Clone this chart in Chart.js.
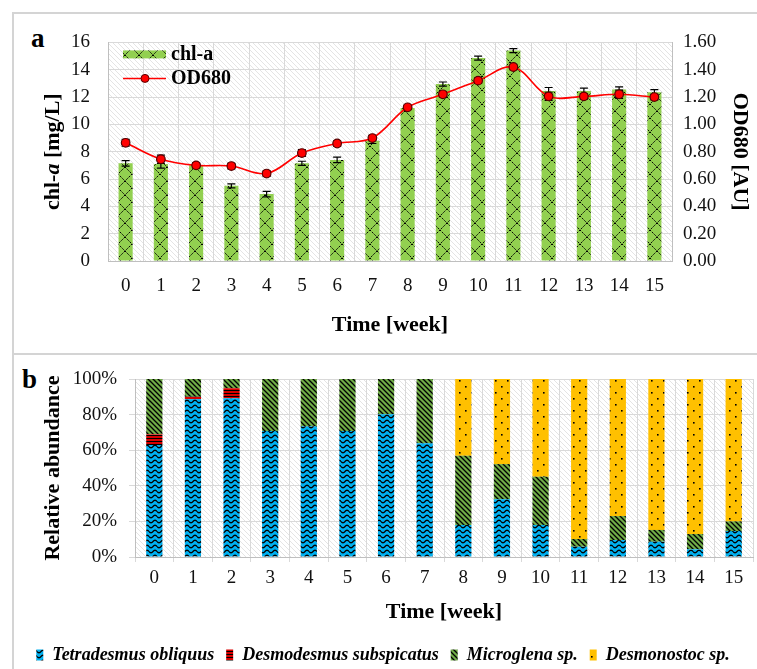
<!DOCTYPE html>
<html>
<head>
<meta charset="utf-8">
<script src="https://cdn.jsdelivr.net/npm/chart.js@4.4.0/dist/chart.umd.min.js"></script>
<style>
    body { margin: 0; width: 757px; height: 669px; overflow: hidden; background: #fff; position: relative; font-family: "Liberation Serif", serif; }
    .frame { position: absolute; background: #d4d4d4; }
    .panel-label { position: absolute; font-weight: bold; font-size: 27px; line-height: 1; color: #000; }
    #wrapA { position: absolute; left: 13px; top: 13px; }
    #wrapB { position: absolute; left: 13px; top: 354px; }
</style>
</head>
<body>
<div class="frame" style="left:12px; top:12px; width:745px; height:2px;"></div>
<div class="frame" style="left:12px; top:12px; width:2px; height:657px;"></div>
<div class="frame" style="left:12px; top:353px; width:745px; height:2px;"></div>
<div class="panel-label" style="left:31px; top:25px;">a</div>
<div class="panel-label" style="left:22px; top:366px;">b</div>
<div id="wrapA"><canvas id="chart-a" width="744" height="341"></canvas></div>
<div id="wrapB"><canvas id="chart-b" width="744" height="320"></canvas></div>
<script>
const FONT = "Liberation Serif";

const weeks = ["0", "1", "2", "3", "4", "5", "6", "7", "8", "9", "10", "11", "12", "13", "14", "15"];

// panel a: chl-a [mg/L] bars and OD680 [AU] line, with error bars
const chlA = [7.15, 7.1, 7.0, 5.5, 4.9, 7.15, 7.4, 8.8, 11.2, 12.95, 14.85, 15.4, 12.45, 12.45, 12.55, 12.35];
const chlAErr = [0.2, 0.3, 0.12, 0.15, 0.2, 0.15, 0.2, 0.2, 0.1, 0.15, 0.15, 0.15, 0.25, 0.2, 0.2, 0.2];
const od680 = [0.865, 0.745, 0.70, 0.695, 0.64, 0.79, 0.86, 0.90, 1.125, 1.22, 1.32, 1.42, 1.205, 1.205, 1.22, 1.20];
const od680Err = [0.025, 0.03, 0.02, 0.02, 0.02, 0.025, 0.02, 0.02, 0.015, 0.02, 0.02, 0.02, 0.03, 0.02, 0.03, 0.02];

// panel b: relative abundance [%]
const tetradesmus = [62.9, 88.6, 89.2, 70.8, 73.5, 70.8, 80.2, 63.9, 18.0, 32.4, 18.0, 5.8, 9.5, 8.6, 4.3, 14.6];
const desmodesmus = [6.0, 1.5, 5.6, 0, 0, 0, 0, 0, 0, 0, 0, 0, 0, 0, 0, 0];
const microglena = [31.1, 9.9, 5.2, 29.2, 26.5, 29.2, 19.8, 36.1, 38.9, 19.8, 27.1, 4.3, 13.5, 6.6, 8.6, 5.4];
const desmonostoc = [0, 0, 0, 0, 0, 0, 0, 0, 43.1, 47.8, 54.9, 89.9, 77.0, 84.8, 87.1, 80.0];

// small tiles used as hatch fills
function makePattern(w, h, bg, draw) {
    var c = document.createElement("canvas");
    c.width = w;
    c.height = h;
    var ctx = c.getContext("2d");
    ctx.fillStyle = bg;
    ctx.fillRect(0, 0, w, h);
    ctx.strokeStyle = "#000";
    ctx.fillStyle = "#000";
    draw(ctx, w, h);
    return ctx.createPattern(c, "repeat");
}

function backslash(ctx, s) {
    ctx.beginPath();
    ctx.moveTo(-1, -1); ctx.lineTo(s + 1, s + 1);
    ctx.moveTo(-1, s - 1); ctx.lineTo(1, s + 1);
    ctx.moveTo(s - 1, -1); ctx.lineTo(s + 1, 1);
    ctx.stroke();
}

const plotHatch = makePattern(5, 5, "#fff", function(ctx, w) {
    ctx.strokeStyle = "#e4e4e4";
    ctx.lineWidth = 1;
    backslash(ctx, w);
});
const chlPattern = makePattern(14, 14, "#92D050", function(ctx, w, h) {
    ctx.lineWidth = 1;
    ctx.setLineDash([2, 1.2]);
    ctx.beginPath();
    ctx.moveTo(0, 0); ctx.lineTo(w, h);
    ctx.moveTo(w, 0); ctx.lineTo(0, h);
    ctx.stroke();
});
const wavePattern = makePattern(8, 5, "#00B0F0", function(ctx, w, h) {
    ctx.lineWidth = 1.3;
    ctx.beginPath();
    for (var x = 0; x <= w; x += 0.5) {
        var y = 2.5 + 1.3 * Math.sin(2 * Math.PI * x / w);
        if (x == 0) ctx.moveTo(x, y); else ctx.lineTo(x, y);
    }
    ctx.stroke();
});
const redPattern = makePattern(4, 3, "#D80000", function(ctx, w) {
    ctx.fillRect(0, 0, w, 1);
});
const diagPattern = makePattern(5, 5, "#70AD47", function(ctx, w) {
    ctx.lineWidth = 1.3;
    backslash(ctx, w);
});
const dotPattern = makePattern(12, 12, "#FFC000", function(ctx) {
    ctx.fillRect(2, 2, 1.6, 1.6);
    ctx.fillRect(8, 8, 1.6, 1.6);
});

// hatched plot background, drawn before grid lines
const hatchPlugin = {
    id: "hatchBg",
    beforeDraw(chart) {
        var a = chart.chartArea;
        var ctx = chart.ctx;
        ctx.save();
        ctx.fillStyle = plotHatch;
        ctx.fillRect(a.left, a.top, a.right - a.left, a.bottom - a.top);
        ctx.restore();
    }
};

function drawErrors(chart, args) {
    var ds = chart.data.datasets[args.index];
    var scale = chart.scales[args.meta.yAxisID];
    var ctx = chart.ctx;
    ctx.save();
    ctx.strokeStyle = "#000";
    ctx.lineWidth = 1.2;
    args.meta.data.forEach(function(el, i) {
        var top = scale.getPixelForValue(ds.data[i] + ds.errors[i]);
        var bot = scale.getPixelForValue(ds.data[i] - ds.errors[i]);
        ctx.beginPath();
        ctx.moveTo(el.x, top); ctx.lineTo(el.x, bot);
        ctx.moveTo(el.x - 4, top); ctx.lineTo(el.x + 4, top);
        ctx.moveTo(el.x - 4, bot); ctx.lineTo(el.x + 4, bot);
        ctx.stroke();
    });
    ctx.restore();
}

const errorBarPlugin = {
    id: "errorBars",
    beforeDatasetDraw(chart, args) {
        var ds = chart.data.datasets[args.index];
        if (ds.errors && ds.type == "line") drawErrors(chart, args);
    },
    afterDatasetDraw(chart, args) {
        var ds = chart.data.datasets[args.index];
        if (ds.errors && ds.type != "line") drawErrors(chart, args);
    }
};

// legend inside the plot and the y title with italic "a"
const panelAText = {
    id: "panelAText",
    afterDraw(chart) {
        var ctx = chart.ctx;
        var a = chart.chartArea;
        ctx.save();
        // legend
        var lx = a.left + 15;
        ctx.fillStyle = chlPattern;
        ctx.fillRect(lx, a.top + 8, 43, 8);
        ctx.strokeStyle = "#FF0000";
        ctx.lineWidth = 1.5;
        ctx.beginPath();
        ctx.moveTo(lx, a.top + 36); ctx.lineTo(lx + 43, a.top + 36);
        ctx.stroke();
        ctx.fillStyle = "#FF0000";
        ctx.strokeStyle = "#5a0000";
        ctx.lineWidth = 1;
        ctx.beginPath();
        ctx.arc(lx + 22, a.top + 36, 4, 0, Math.PI * 2);
        ctx.fill();
        ctx.stroke();
        ctx.fillStyle = "#000";
        ctx.font = "bold 20px " + FONT;
        ctx.textBaseline = "middle";
        ctx.fillText("chl-a", lx + 48, a.top + 12);
        ctx.fillText("OD680", lx + 48, a.top + 36);

        // left axis title
        var parts = [["chl-", "bold 22px "], ["a", "italic bold 22px "], [" [mg/L]", "bold 22px "]];
        var total = 0;
        parts.forEach(function(p) { ctx.font = p[1] + FONT; total += ctx.measureText(p[0]).width; });
        ctx.translate(40, (a.top + a.bottom) / 2);
        ctx.rotate(-Math.PI / 2);
        ctx.textAlign = "left";
        var x = -total / 2;
        parts.forEach(function(p) {
            ctx.font = p[1] + FONT;
            ctx.fillText(p[0], x, 0);
            x += ctx.measureText(p[0]).width;
        });
        ctx.restore();
    }
};

const tickFont = { family: FONT, size: 19 };
const titleFont = { family: FONT, size: 22, weight: "bold" };
const gridColor = "#d9d9d9";
const axisColor = "#bfbfbf";

var chartA = new Chart(document.getElementById("chart-a"), {
    type: "bar",
    data: {
        labels: weeks,
        datasets: [
            {
                type: "line",
                label: "OD680",
                data: od680,
                errors: od680Err,
                yAxisID: "y1",
                borderColor: "#FF0000",
                borderWidth: 1.6,
                pointBackgroundColor: "#FF0000",
                pointBorderColor: "#5a0000",
                pointBorderWidth: 1.2,
                pointRadius: 4.3,
                tension: 0.35,
                order: 0
            },
            {
                label: "chl-a",
                data: chlA,
                errors: chlAErr,
                yAxisID: "y",
                backgroundColor: chlPattern,
                barPercentage: 1,
                categoryPercentage: 0.4,
                order: 1
            }
        ]
    },
    options: {
        responsive: false,
        animation: false,
        devicePixelRatio: 1,
        layout: { padding: { top: 24, left: 0, right: 0, bottom: 0 } },
        plugins: { legend: { display: false }, tooltip: { enabled: false } },
        scales: {
            x: {
                grid: { color: gridColor, drawTicks: false, offset: true },
                border: { color: axisColor },
                ticks: { font: tickFont, color: "#111", padding: 14 },
                title: { display: true, text: "Time [week]", font: titleFont, color: "#000", padding: { bottom: 15 } },
                afterFit: function(s) { s.height = 93; }
            },
            y: {
                min: 0,
                max: 16,
                grid: { color: gridColor, drawTicks: false },
                border: { color: axisColor },
                ticks: { stepSize: 2, font: tickFont, color: "#111", padding: 18 },
                afterFit: function(s) { s.width = 95; }
            },
            y1: {
                position: "right",
                min: 0,
                max: 1.6,
                grid: { drawOnChartArea: false, drawTicks: false },
                border: { color: axisColor },
                ticks: { stepSize: 0.2, font: tickFont, color: "#111", padding: 11, callback: function(v) { return v.toFixed(2); } },
                title: { display: true, text: "OD680 [AU]", font: titleFont, color: "#000", padding: { top: 4 } },
                afterFit: function(s) { s.width = 85; }
            }
        }
    },
    plugins: [hatchPlugin, errorBarPlugin, panelAText]
});

var chartB = new Chart(document.getElementById("chart-b"), {
    type: "bar",
    data: {
        labels: weeks,
        datasets: [
            { label: "Tetradesmus obliquus", data: tetradesmus, backgroundColor: wavePattern },
            { label: "Desmodesmus subspicatus", data: desmodesmus, backgroundColor: redPattern },
            { label: "Microglena sp.", data: microglena, backgroundColor: diagPattern },
            { label: "Desmonostoc sp.", data: desmonostoc, backgroundColor: dotPattern }
        ]
    },
    options: {
        responsive: false,
        animation: false,
        devicePixelRatio: 1,
        datasets: { bar: { barPercentage: 1, categoryPercentage: 0.42, borderWidth: 0 } },
        layout: { padding: { top: 25, left: 0, right: 4, bottom: 0 } },
        plugins: {
            tooltip: { enabled: false },
            legend: {
                position: "bottom",
                labels: {
                    boxWidth: 7,
                    boxHeight: 11,
                    padding: 12,
                    color: "#000",
                    font: { family: FONT, size: 18, weight: "bold", style: "italic" }
                }
            }
        },
        scales: {
            x: {
                stacked: true,
                grid: { color: gridColor, tickLength: 5, offset: true },
                border: { color: axisColor },
                ticks: { font: tickFont, color: "#111", padding: 5 },
                title: { display: true, text: "Time [week]", font: titleFont, color: "#000", padding: { bottom: 8 } },
                afterFit: function(s) { s.height = 77; }
            },
            y: {
                stacked: true,
                min: 0,
                max: 100,
                grid: { color: gridColor, tickLength: 6 },
                border: { color: axisColor },
                ticks: { stepSize: 20, font: tickFont, color: "#111", padding: 12, callback: function(v) { return v + "%"; } },
                title: { display: true, text: "Relative abundance", font: titleFont, color: "#000", padding: { top: 27 } },
                afterFit: function(s) { s.width = 122; }
            }
        }
    },
    plugins: [hatchPlugin]
});
</script>
</body>
</html>
